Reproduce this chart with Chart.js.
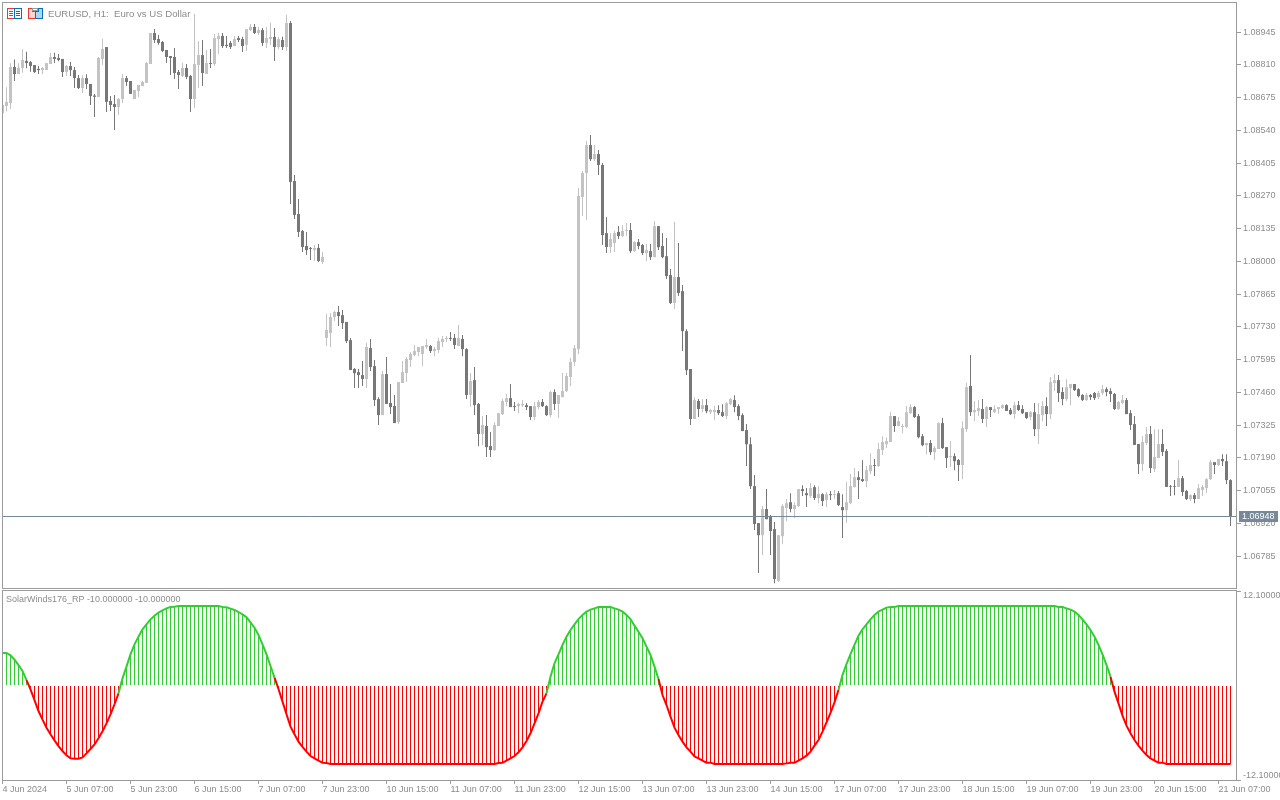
<!DOCTYPE html>
<html>
<head>
<meta charset="utf-8">
<title>EURUSD H1</title>
<script src="https://cdn.jsdelivr.net/npm/chart.js@4"></script>
<style>
  html, body { margin: 0; padding: 0; background: #fff; width: 1280px; height: 800px; overflow: hidden; }
  canvas { position: absolute; left: 0; }
  #priceCanvas { top: 0; }
  #windCanvas { top: 589px; }
  .label { position: absolute; font-family: "Liberation Sans", sans-serif; color: #8c8c8c; white-space: pre; z-index: 2; }
  #symbolLabel { left: 48px; top: 8px; font-size: 9.6px; line-height: 12px; }
  #windLabel { left: 6px; top: 594px; font-size: 9px; line-height: 11px; }
  #icons { position: absolute; left: 7px; top: 8px; z-index: 2; }
</style>
</head>
<body>
<svg id="icons" width="37" height="12" shape-rendering="crispEdges">
  <rect x="0.5" y="0.5" width="7" height="10" fill="#fff" stroke="#e53935"/>
  <rect x="7.5" y="0.5" width="7" height="10" fill="#fff" stroke="#0b6fb8"/>
  <path d="M2 3.5h4M2 5.5h4M2 7.5h4" stroke="#e53935"/>
  <path d="M9 3.5h4M9 5.5h4M9 7.5h4" stroke="#0b6fb8"/>
  <path d="M21.5 0.5h4v3h3v7h-7z" fill="#fbd5cf" stroke="#e53935"/>
  <path d="M29.5 3.5h2v-3h4v10h-7v-7z" fill="#a9d8f5" stroke="#0b6fb8"/>
  <rect x="25.5" y="0.5" width="5" height="2" fill="#fff" stroke="#9a9a9a"/>
</svg>
<div id="symbolLabel" class="label">EURUSD, H1:  Euro vs US Dollar</div>
<div id="windLabel" class="label">SolarWinds176_RP -10.000000 -10.000000</div>
<canvas id="priceCanvas" width="1280" height="589"></canvas>
<canvas id="windCanvas" width="1280" height="211"></canvas>
<script>
// 시가/고가/저가/종가 (H1 bars, 4 Jun - 21 Jun 2024)
const opens = [
  1.08611,1.08640,1.08652,1.08801,1.08772,1.08797,1.08826,1.08821,1.08809,1.08793,1.08788,1.08788,1.08813,1.08842,1.08838,1.08834,
  1.08780,1.08805,1.08788,1.08755,1.08714,1.08755,1.08731,1.08683,1.08677,1.08834,1.08883,1.08661,1.08648,1.08636,1.08669,1.08755,
  1.08743,1.08669,1.08702,1.08722,1.08735,1.08813,1.08941,1.08916,1.08904,1.08871,1.08846,1.08842,1.08780,1.08764,1.08797,1.08764,
  1.08669,1.08809,1.08850,1.08772,1.08817,1.08813,1.08916,1.08929,1.08892,1.08900,1.08887,1.08920,1.08916,1.08892,1.08953,1.08966,
  1.08941,1.08953,1.08900,1.08916,1.08925,1.08883,1.08912,1.08883,1.08982,1.08331,1.08195,1.08125,1.08063,1.08055,1.08046,1.08055,
  1.07997,1.07684,1.07704,1.07770,1.07791,1.07778,1.07750,1.07675,1.07556,1.07543,1.07531,1.07515,1.07642,1.07568,1.07432,1.07366,
  1.07535,1.07416,1.07403,1.07337,1.07498,1.07539,1.07593,1.07614,1.07626,1.07618,1.07647,1.07651,1.07630,1.07634,1.07667,1.07680,
  1.07684,1.07684,1.07651,1.07680,1.07638,1.07449,1.07510,1.07412,1.07288,1.07321,1.07238,1.07222,1.07321,1.07370,1.07420,1.07436,
  1.07403,1.07403,1.07407,1.07407,1.07403,1.07358,1.07399,1.07420,1.07403,1.07366,1.07461,1.07412,1.07440,1.07465,1.07523,1.07585,
  1.07638,1.08265,1.08364,1.08479,1.08421,1.08442,1.08397,1.08116,1.08059,1.08075,1.08121,1.08104,1.08125,1.08129,1.08042,1.08079,
  1.08067,1.08034,1.08042,1.08017,1.08145,1.08063,1.08021,1.07943,1.07828,1.07935,1.07877,1.07712,1.07556,1.07350,1.07424,1.07391,
  1.07407,1.07378,1.07378,1.07387,1.07378,1.07362,1.07411,1.07428,1.07403,1.07366,1.07304,1.07246,1.07073,1.06921,1.06871,1.06979,
  1.06950,1.06896,1.06682,1.06867,1.06983,1.07007,1.06979,1.06991,1.07061,1.07044,1.07032,1.07069,1.07024,1.07040,1.07016,1.07040,
  1.07036,1.07044,1.06987,1.06974,1.07003,1.07069,1.07110,1.07102,1.07094,1.07135,1.07160,1.07156,1.07222,1.07246,1.07255,1.07362,
  1.07321,1.07317,1.07317,1.07374,1.07399,1.07362,1.07279,1.07242,1.07251,1.07213,1.07226,1.07333,1.07234,1.07193,1.07197,1.07181,
  1.07160,1.07308,1.07486,1.07378,1.07383,1.07391,1.07350,1.07399,1.07378,1.07391,1.07395,1.07407,1.07387,1.07370,1.07407,1.07391,
  1.07378,1.07358,1.07378,1.07308,1.07366,1.07403,1.07370,1.07498,1.07510,1.07461,1.07432,1.07477,1.07494,1.07473,1.07449,1.07428,
  1.07449,1.07457,1.07440,1.07457,1.07473,1.07465,1.07453,1.07391,1.07416,1.07428,1.07374,1.07329,1.07247,1.07164,1.07251,1.07288,
  1.07144,1.07189,1.07247,1.07218,1.07073,1.07073,1.07070,1.07106,1.07053,1.07020,1.07036,1.07020,1.07057,1.07065,1.07102,1.07172,
  1.07160,1.07185,1.07176,1.07098
];
const highs = [
  1.08644,1.08717,1.08816,1.08832,1.08816,1.08875,1.08864,1.08826,1.08809,1.08805,1.08801,1.08817,1.08859,1.08860,1.08854,1.08834,
  1.08809,1.08821,1.08801,1.08768,1.08767,1.08771,1.08731,1.08690,1.08842,1.08916,1.08883,1.08681,1.08685,1.08673,1.08772,1.08764,
  1.08743,1.08706,1.08727,1.08743,1.08821,1.08941,1.08957,1.08933,1.08908,1.08871,1.08846,1.08879,1.08788,1.08817,1.08813,1.08768,
  1.09019,1.08908,1.08912,1.08871,1.08875,1.08937,1.08941,1.08941,1.08929,1.08908,1.08929,1.08929,1.08925,1.08957,1.08978,1.08978,
  1.08966,1.08962,1.08966,1.08982,1.08962,1.08925,1.08925,1.09015,1.08990,1.08356,1.08257,1.08129,1.08121,1.08059,1.08067,1.08071,
  1.08038,1.07783,1.07787,1.07795,1.07816,1.07799,1.07750,1.07684,1.07560,1.07556,1.07589,1.07663,1.07680,1.07593,1.07440,1.07548,
  1.07605,1.07494,1.07449,1.07502,1.07589,1.07605,1.07626,1.07655,1.07647,1.07651,1.07680,1.07655,1.07647,1.07684,1.07692,1.07692,
  1.07708,1.07700,1.07737,1.07696,1.07642,1.07539,1.07564,1.07416,1.07362,1.07366,1.07296,1.07337,1.07374,1.07432,1.07453,1.07494,
  1.07420,1.07416,1.07428,1.07416,1.07403,1.07420,1.07428,1.07432,1.07407,1.07465,1.07473,1.07449,1.07539,1.07539,1.07601,1.07655,
  1.08302,1.08372,1.08496,1.08520,1.08479,1.08459,1.08405,1.08182,1.08116,1.08125,1.08145,1.08149,1.08158,1.08158,1.08083,1.08092,
  1.08071,1.08071,1.08071,1.08166,1.08145,1.08116,1.08096,1.07968,1.08162,1.08075,1.07902,1.07720,1.07556,1.07440,1.07432,1.07432,
  1.07432,1.07391,1.07403,1.07407,1.07411,1.07420,1.07436,1.07448,1.07411,1.07374,1.07329,1.07275,1.07119,1.06921,1.06991,1.07061,
  1.06954,1.06925,1.06871,1.06999,1.07020,1.07044,1.07007,1.07061,1.07077,1.07065,1.07086,1.07077,1.07073,1.07044,1.07049,1.07053,
  1.07057,1.07053,1.07040,1.07090,1.07123,1.07148,1.07135,1.07180,1.07156,1.07209,1.07185,1.07251,1.07279,1.07275,1.07378,1.07362,
  1.07358,1.07329,1.07403,1.07411,1.07403,1.07370,1.07288,1.07251,1.07263,1.07238,1.07337,1.07354,1.07234,1.07259,1.07209,1.07185,
  1.07341,1.07498,1.07614,1.07424,1.07428,1.07432,1.07403,1.07399,1.07407,1.07399,1.07411,1.07411,1.07395,1.07420,1.07424,1.07407,
  1.07378,1.07383,1.07416,1.07416,1.07424,1.07440,1.07523,1.07535,1.07531,1.07481,1.07514,1.07494,1.07494,1.07477,1.07453,1.07457,
  1.07453,1.07461,1.07465,1.07490,1.07481,1.07477,1.07457,1.07424,1.07449,1.07436,1.07387,1.07362,1.07247,1.07280,1.07317,1.07321,
  1.07308,1.07308,1.07308,1.07226,1.07078,1.07098,1.07181,1.07115,1.07057,1.07040,1.07045,1.07082,1.07078,1.07106,1.07181,1.07172,
  1.07185,1.07205,1.07205,1.07102
];
const lows = [
  1.08611,1.08617,1.08628,1.08743,1.08772,1.08777,1.08796,1.08781,1.08776,1.08772,1.08772,1.08788,1.08813,1.08817,1.08824,1.08760,
  1.08764,1.08764,1.08714,1.08710,1.08694,1.08710,1.08644,1.08595,1.08677,1.08809,1.08615,1.08619,1.08541,1.08603,1.08652,1.08722,
  1.08690,1.08669,1.08677,1.08722,1.08735,1.08813,1.08900,1.08892,1.08863,1.08817,1.08768,1.08751,1.08710,1.08760,1.08751,1.08615,
  1.08632,1.08714,1.08722,1.08772,1.08797,1.08805,1.08854,1.08879,1.08879,1.08875,1.08887,1.08904,1.08863,1.08867,1.08949,1.08937,
  1.08933,1.08887,1.08879,1.08892,1.08826,1.08875,1.08871,1.08867,1.08236,1.08174,1.08100,1.08038,1.08026,1.08005,1.08001,1.07997,
  1.07989,1.07651,1.07647,1.07754,1.07733,1.07721,1.07663,1.07552,1.07478,1.07478,1.07486,1.07478,1.07548,1.07403,1.07325,1.07366,
  1.07412,1.07370,1.07333,1.07329,1.07498,1.07502,1.07564,1.07609,1.07609,1.07568,1.07638,1.07622,1.07609,1.07622,1.07647,1.07667,
  1.07671,1.07638,1.07651,1.07609,1.07432,1.07399,1.07366,1.07238,1.07243,1.07193,1.07193,1.07218,1.07321,1.07366,1.07403,1.07399,
  1.07383,1.07374,1.07399,1.07387,1.07346,1.07346,1.07391,1.07399,1.07362,1.07358,1.07387,1.07354,1.07440,1.07461,1.07486,1.07568,
  1.07618,1.08187,1.08170,1.08413,1.08413,1.08356,1.08067,1.08034,1.08034,1.08038,1.08092,1.08100,1.08104,1.08034,1.08038,1.08050,
  1.08026,1.08001,1.08005,1.08017,1.08046,1.08013,1.07927,1.07824,1.07803,1.07857,1.07630,1.07531,1.07325,1.07350,1.07358,1.07378,
  1.07374,1.07370,1.07345,1.07366,1.07358,1.07350,1.07407,1.07378,1.07345,1.07300,1.07156,1.07061,1.06892,1.06715,1.06789,1.06937,
  1.06789,1.06673,1.06678,1.06834,1.06929,1.06966,1.06941,1.06987,1.07032,1.06987,1.07024,1.07016,1.07003,1.06991,1.06987,1.07016,
  1.07020,1.06991,1.06859,1.06921,1.06999,1.07069,1.07020,1.07090,1.07069,1.07123,1.07115,1.07152,1.07201,1.07230,1.07255,1.07296,
  1.07321,1.07292,1.07312,1.07370,1.07354,1.07271,1.07238,1.07205,1.07201,1.07180,1.07226,1.07226,1.07148,1.07152,1.07139,1.07094,
  1.07102,1.07296,1.07362,1.07341,1.07362,1.07333,1.07317,1.07358,1.07374,1.07370,1.07391,1.07383,1.07366,1.07350,1.07383,1.07370,
  1.07350,1.07345,1.07280,1.07247,1.07341,1.07321,1.07350,1.07465,1.07420,1.07407,1.07424,1.07407,1.07465,1.07440,1.07424,1.07424,
  1.07428,1.07428,1.07432,1.07449,1.07444,1.07420,1.07387,1.07387,1.07411,1.07370,1.07305,1.07243,1.07123,1.07135,1.07243,1.07127,
  1.07131,1.07189,1.07197,1.07070,1.07032,1.07036,1.07070,1.07032,1.07016,1.07012,1.07003,1.07020,1.07032,1.07045,1.07098,1.07123,
  1.07156,1.07156,1.07082,1.06909
];
const closes = [
  1.08644,1.08657,1.08801,1.08772,1.08798,1.08830,1.08817,1.08805,1.08780,1.08788,1.08797,1.08817,1.08842,1.08834,1.08830,1.08780,
  1.08805,1.08788,1.08755,1.08714,1.08755,1.08731,1.08681,1.08678,1.08838,1.08875,1.08657,1.08644,1.08636,1.08669,1.08755,1.08739,
  1.08690,1.08706,1.08727,1.08739,1.08817,1.08941,1.08912,1.08900,1.08867,1.08842,1.08838,1.08776,1.08768,1.08797,1.08760,1.08669,
  1.08813,1.08850,1.08776,1.08817,1.08813,1.08920,1.08929,1.08887,1.08887,1.08883,1.08916,1.08912,1.08887,1.08957,1.08966,1.08941,
  1.08953,1.08900,1.08920,1.08925,1.08883,1.08916,1.08883,1.08982,1.08327,1.08191,1.08121,1.08059,1.08046,1.08051,1.08055,1.08001,
  1.08018,1.07717,1.07770,1.07791,1.07774,1.07745,1.07671,1.07552,1.07539,1.07531,1.07515,1.07647,1.07564,1.07428,1.07366,1.07535,
  1.07412,1.07399,1.07333,1.07502,1.07543,1.07597,1.07618,1.07630,1.07647,1.07651,1.07655,1.07630,1.07638,1.07671,1.07680,1.07684,
  1.07680,1.07655,1.07684,1.07638,1.07449,1.07506,1.07407,1.07288,1.07325,1.07234,1.07222,1.07325,1.07374,1.07424,1.07436,1.07399,
  1.07399,1.07412,1.07412,1.07399,1.07358,1.07403,1.07420,1.07403,1.07366,1.07461,1.07412,1.07449,1.07465,1.07527,1.07585,1.07642,
  1.08269,1.08364,1.08479,1.08421,1.08442,1.08397,1.08108,1.08059,1.08092,1.08116,1.08104,1.08125,1.08129,1.08042,1.08079,1.08063,
  1.08034,1.08046,1.08017,1.08145,1.08058,1.08017,1.07939,1.07828,1.07935,1.07869,1.07712,1.07551,1.07350,1.07428,1.07391,1.07407,
  1.07382,1.07387,1.07387,1.07374,1.07362,1.07415,1.07432,1.07399,1.07362,1.07300,1.07246,1.07073,1.06917,1.06871,1.06979,1.06937,
  1.06888,1.06690,1.06871,1.06991,1.07003,1.06979,1.06995,1.07061,1.07053,1.07036,1.07065,1.07024,1.07040,1.07012,1.07040,1.07036,
  1.07040,1.06995,1.06974,1.07007,1.07073,1.07110,1.07098,1.07094,1.07139,1.07160,1.07156,1.07226,1.07255,1.07259,1.07362,1.07321,
  1.07341,1.07321,1.07378,1.07399,1.07358,1.07275,1.07242,1.07251,1.07213,1.07230,1.07333,1.07230,1.07189,1.07197,1.07176,1.07160,
  1.07312,1.07481,1.07378,1.07387,1.07395,1.07350,1.07399,1.07387,1.07391,1.07399,1.07407,1.07383,1.07370,1.07407,1.07387,1.07374,
  1.07354,1.07378,1.07308,1.07370,1.07403,1.07370,1.07502,1.07510,1.07457,1.07432,1.07481,1.07494,1.07469,1.07444,1.07428,1.07449,
  1.07440,1.07436,1.07457,1.07473,1.07461,1.07453,1.07391,1.07420,1.07428,1.07370,1.07325,1.07243,1.07164,1.07255,1.07288,1.07148,
  1.07193,1.07247,1.07214,1.07070,1.07070,1.07070,1.07106,1.07049,1.07020,1.07036,1.07020,1.07065,1.07070,1.07102,1.07172,1.07160,
  1.07185,1.07176,1.07098,1.06950
];
const lastPrice = 1.06948;
const priceTicks = [1.08945,1.08810,1.08675,1.08540,1.08405,1.08270,1.08135,1.08000,1.07865,1.07730,1.07595,1.07460,1.07325,1.07190,1.07055,1.06920,1.06785];

// SolarWinds176_RP 지표 값
const windValues = [
  4.16,4.16,3.86,3.31,2.62,1.86,0.70,-0.49,-1.86,-3.27,-4.37,-5.40,-6.25,-7.02,-7.75,-8.39,
  -8.94,-9.33,-9.37,-9.37,-9.20,-8.69,-8.13,-7.55,-6.75,-5.85,-4.85,-3.70,-2.40,-1.00,0.92,2.41,
  3.99,5.27,6.25,7.19,7.83,8.47,8.94,9.33,9.62,9.88,10.05,10.09,10.18,10.18,10.18,10.18,
  10.18,10.18,10.18,10.18,10.18,10.18,10.18,10.05,10.01,9.84,9.67,9.41,9.11,8.73,8.09,7.40,
  6.47,5.27,3.99,2.50,1.00,-0.45,-2.07,-3.69,-5.27,-6.25,-7.19,-7.87,-8.47,-9.03,-9.33,-9.62,
  -9.88,-9.92,-10.05,-10.05,-10.05,-10.05,-10.05,-10.05,-10.05,-10.05,-10.05,-10.05,-10.05,-10.05,-10.05,-10.05,
  -10.05,-10.05,-10.05,-10.05,-10.05,-10.05,-10.05,-10.05,-10.05,-10.05,-10.05,-10.05,-10.05,-10.05,-10.05,-10.05,
  -10.05,-10.05,-10.05,-10.05,-10.05,-10.05,-10.05,-10.05,-10.05,-10.05,-10.05,-10.05,-9.92,-9.88,-9.62,-9.33,
  -9.03,-8.56,-7.92,-7.11,-6.12,-4.84,-3.56,-2.07,-1.00,1.13,2.84,3.99,5.19,6.25,7.11,7.83,
  8.51,9.03,9.45,9.71,9.88,10.05,10.05,10.05,10.05,9.88,9.71,9.45,9.03,8.51,7.66,6.89,
  6.04,4.97,3.91,2.41,0.83,-1.22,-2.50,-3.99,-5.40,-6.34,-7.19,-7.92,-8.47,-9.07,-9.33,-9.62,
  -9.88,-9.88,-10.05,-10.05,-10.05,-10.05,-10.05,-10.05,-10.05,-10.05,-10.05,-10.05,-10.05,-10.05,-10.05,-10.05,
  -10.05,-10.05,-10.05,-10.05,-9.97,-9.88,-9.88,-9.62,-9.33,-8.98,-8.47,-7.70,-6.98,-5.91,-4.72,-3.52,
  -2.16,-0.58,1.34,2.75,4.03,5.19,6.38,7.19,7.83,8.47,9.03,9.45,9.71,9.97,10.05,10.05,
  10.18,10.18,10.18,10.18,10.18,10.18,10.18,10.18,10.18,10.18,10.18,10.18,10.18,10.18,10.18,10.18,
  10.18,10.18,10.18,10.18,10.18,10.18,10.18,10.18,10.18,10.18,10.18,10.18,10.18,10.18,10.18,10.18,
  10.18,10.18,10.18,10.18,10.18,10.18,10.18,10.18,10.05,10.05,9.88,9.71,9.45,9.03,8.47,7.83,
  7.11,6.25,5.19,3.99,2.62,1.13,-0.79,-2.28,-3.86,-5.14,-6.12,-6.98,-7.70,-8.34,-8.90,-9.33,
  -9.62,-9.88,-9.88,-10.05,-10.05,-10.05,-10.05,-10.05,-10.05,-10.05,-10.05,-10.05,-10.05,-10.05,-10.05,-10.05,
  -10.05,-10.05,-10.05,-10.05
];
const windTicks = [12.1, -12.1];

// 하단 시간축: 16개 봉마다 라벨 하나
const timeTicks = [0,16,32,48,64,80,96,112,128,144,160,176,192,208,224,240,256,272,288,304];
const timeLabels = ['4 Jun 2024','5 Jun 07:00','5 Jun 23:00','6 Jun 15:00','7 Jun 07:00','7 Jun 23:00','10 Jun 15:00','11 Jun 07:00','11 Jun 23:00','12 Jun 15:00','13 Jun 07:00','13 Jun 23:00','14 Jun 15:00','17 Jun 07:00','17 Jun 23:00','18 Jun 15:00','19 Jun 07:00','19 Jun 23:00','20 Jun 15:00','21 Jun 07:00'];

const upColor = '#c3c3c3';
const downColor = '#777777';
const greenColor = '#32cd32';
const redColor = '#ff0000';
const frameColor = '#9a9a9f';
const textColor = '#8c8c8c';
const lastColor = '#778899';

Chart.defaults.font.family = '"Liberation Sans", sans-serif';
Chart.defaults.font.size = 9;
Chart.defaults.color = textColor;
Chart.defaults.animation = false;
Chart.defaults.responsive = false;
Chart.defaults.plugins.legend.display = false;
Chart.defaults.plugins.tooltip.enabled = false;

// x축은 두 차트가 같이 쓴다. 1 unit = 4px
const xMin = -0.125;
const xMax = 308.625;

// 패널 테두리
const framePlugin = {
  id: 'frame',
  afterDraw(chart) {
    const { ctx, chartArea: a } = chart;
    ctx.save();
    ctx.strokeStyle = frameColor;
    ctx.lineWidth = 1;
    ctx.strokeRect(a.left + 0.5, a.top - 0.5, a.right - a.left - 1, a.bottom - a.top + 1);
    ctx.restore();
  }
};

// 현재가 라벨 박스
const lastPricePlugin = {
  id: 'lastPrice',
  afterDraw(chart) {
    const { ctx, scales } = chart;
    const y = Math.floor(scales.y.getPixelForValue(lastPrice));
    ctx.save();
    ctx.fillStyle = lastColor;
    ctx.fillRect(1239, y - 5, 39, 11);
    ctx.fillStyle = '#ffffff';
    ctx.font = '9px "Liberation Sans", sans-serif';
    ctx.textBaseline = 'middle';
    ctx.fillText(lastPrice.toFixed(5), 1242, y + 1);
    ctx.restore();
  }
};

function rightAxis(min, max, ticks, callback) {
  return {
    type: 'linear',
    position: 'right',
    min: min,
    max: max,
    border: { display: false },
    grid: { drawOnChartArea: false, drawTicks: true, tickLength: 4, tickColor: frameColor },
    ticks: { autoSkip: false, padding: 2, callback: callback, font: { lineHeight: 1.1 } },
    afterBuildTicks: scale => { scale.ticks = ticks.map(v => ({ value: v })); },
    afterFit: scale => { scale.width = 43; scale.paddingTop = 0; scale.paddingBottom = 0; }
  };
}

const barIndex = opens.map((_, i) => i);
const candleColors = barIndex.map(i => (closes[i] >= opens[i] ? upColor : downColor));

new Chart(document.getElementById('priceCanvas'), {
  type: 'bar',
  data: {
    datasets: [
      {
        type: 'line',
        data: [{ x: xMin, y: lastPrice }, { x: xMax, y: lastPrice }],
        borderColor: lastColor,
        borderWidth: 1,
        pointRadius: 0
      },
      {
        data: barIndex.map(i => ({ x: i, y: [opens[i], closes[i]] })),
        backgroundColor: candleColors,
        barThickness: 3,
        inflateAmount: 0,
        grouped: false
      },
      {
        data: barIndex.map(i => ({ x: i, y: [lows[i], highs[i]] })),
        backgroundColor: candleColors,
        barThickness: 1,
        inflateAmount: 0,
        grouped: false
      }
    ]
  },
  options: {
    layout: { padding: { left: 2, top: 3, right: 0, bottom: 1 } },
    scales: {
      x: { type: 'linear', display: false, min: xMin, max: xMax, offset: false },
      y: rightAxis(1.066533, 1.090646, priceTicks, v => v.toFixed(5))
    }
  },
  plugins: [framePlugin, lastPricePlugin]
});

new Chart(document.getElementById('windCanvas'), {
  type: 'bar',
  data: {
    datasets: [
      {
        type: 'line',
        data: barIndex.map(i => ({ x: i, y: windValues[i] })),
        borderWidth: 2,
        borderColor: greenColor,
        pointRadius: 0,
        tension: 0,
        segment: { borderColor: c => (c.p1.parsed.y > 0 ? greenColor : redColor) }
      },
      {
        // 0선 주변 1px 빈 줄이 있어서 0.064 띄움
        data: barIndex.map(i => ({ x: i, y: windValues[i] > 0 ? [0.064, windValues[i]] : [-0.064, windValues[i]] })),
        backgroundColor: barIndex.map(i => (windValues[i] > 0 ? greenColor : redColor)),
        barThickness: 1,
        inflateAmount: 0,
        grouped: false
      }
    ]
  },
  options: {
    layout: { padding: { left: 2, top: 2, right: 0, bottom: 0 } },
    scales: {
      x: {
        type: 'linear',
        min: xMin,
        max: xMax,
        offset: false,
        border: { display: false },
        grid: { offset: false, drawOnChartArea: false, drawTicks: true, tickLength: 4, tickColor: frameColor },
        ticks: {
          autoSkip: false,
          maxRotation: 0,
          align: 'start',
          padding: 0,
          callback: v => timeLabels[timeTicks.indexOf(v)]
        },
        afterBuildTicks: scale => { scale.ticks = timeTicks.map(v => ({ value: v })); },
        afterFit: scale => { scale.height = 20; scale.paddingLeft = 0; scale.paddingRight = 0; }
      },
      // 라벨이 패널 안쪽으로 들어와 있어서 빈 줄로 밀어 넣음
      y: rightAxis(-12.1, 12.1, windTicks, v => (v > 0 ? ['', v.toFixed(5)] : [v.toFixed(5), '']))
    }
  },
  plugins: [framePlugin]
});
</script>
</body>
</html>
